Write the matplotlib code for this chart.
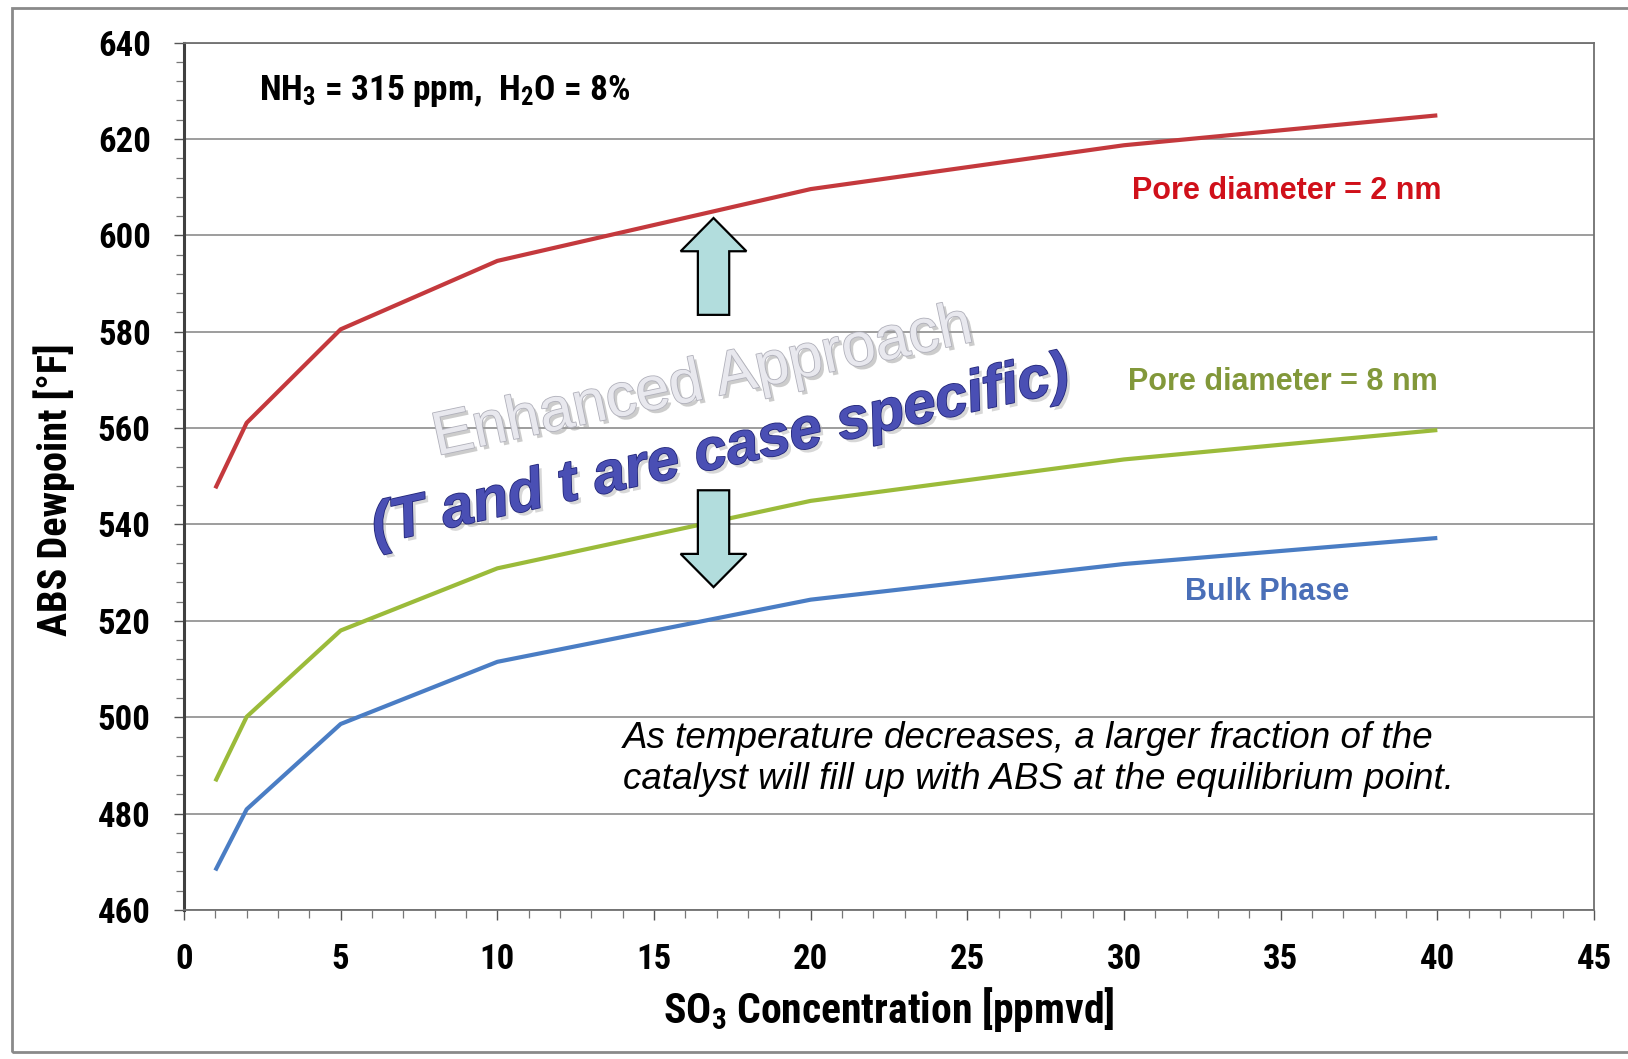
import matplotlib
matplotlib.use("Agg")
import matplotlib.pyplot as plt
from matplotlib import font_manager
from matplotlib.patches import FancyArrow, Rectangle
import matplotlib.patheffects as pe
from matplotlib.ticker import MultipleLocator

# ---------------- data ----------------
so3 = [1, 2, 5, 10, 20, 30, 40]
pore_2nm = [547.5, 561.1, 580.5, 594.7, 609.6, 618.7, 624.9]
pore_8nm = [486.7, 500.1, 518.0, 530.9, 544.9, 553.5, 559.6]
bulk = [468.2, 480.9, 498.6, 511.5, 524.4, 531.8, 537.2]
series_names = ["Pore diameter = 2 nm", "Pore diameter = 8 nm", "Bulk Phase"]
xticks = [0, 5, 10, 15, 20, 25, 30, 35, 40, 45]
yticks = [460, 480, 500, 520, 540, 560, 580, 600, 620, 640]

# ---------------- fonts ----------------
def has_font(name):
    try:
        font_manager.findfont(font_manager.FontProperties(family=name), fallback_to_default=False)
        return True
    except Exception:
        return False

NARROW = "Liberation Sans Narrow" if has_font("Liberation Sans Narrow") else "Roboto Condensed" if has_font("Roboto Condensed") else "Liberation Sans"
ARIAL = "Liberation Sans"
plt.rcParams["mathtext.default"] = "regular"

W, H = 1628, 1059
fig = plt.figure(figsize=(W / 100, H / 100), dpi=100)
fig.patch.set_facecolor("white")

# outer frame
fig.add_artist(Rectangle((12 / W, 1 - 1052 / H), 1.2, (1052 - 8) / H, transform=fig.transFigure,
                         facecolor="none", edgecolor="#8a8a8a", lw=2.0, zorder=0))

ax = fig.add_axes([184 / W, 1 - 910 / H, (1594 - 184) / W, (910 - 42.6) / H])
ax.set_xlim(0, 45)
ax.set_ylim(460, 640)

ax.xaxis.set_major_locator(MultipleLocator(5))
ax.xaxis.set_minor_locator(MultipleLocator(1))
ax.yaxis.set_major_locator(MultipleLocator(20))
ax.yaxis.set_minor_locator(MultipleLocator(4))
ax.set_xticks(xticks)
ax.set_yticks(yticks)

ax.tick_params(axis="both", which="major", direction="out", length=7, width=1.0, color="#555555", pad=17)
ax.tick_params(axis="both", which="minor", direction="out", length=6, width=0.9, color="#777777")
for lab in ax.get_xticklabels() + ax.get_yticklabels():
    lab.set_fontfamily(NARROW)
    lab.set_fontweight("bold")
    lab.set_fontsize(25)

ax.yaxis.grid(True, which="major", color="#8c8c8c", lw=1.2)
ax.set_axisbelow(True)
for side in ["top", "right", "bottom"]:
    ax.spines[side].set_color("#707070")
    ax.spines[side].set_linewidth(1.3)
ax.spines["left"].set_color("#404040")
ax.spines["left"].set_linewidth(2.2)

ax.set_ylabel("ABS Dewpoint [°F]", fontfamily=NARROW, fontweight="bold", fontsize=29)
ax.yaxis.set_label_coords(-0.077, 0.485)
ax.set_xlabel("SO$_3$ Concentration [ppmvd]", fontfamily=NARROW, fontweight="bold", fontsize=30)
ax.xaxis.set_label_coords(0.5, -0.086)

# lines
colors = ["#C4393D", "#9BBB3A", "#4A7DC4"]
for ys, c in zip([pore_2nm, pore_8nm, bulk], colors):
    ax.plot(so3, ys, color=c, lw=3.0, solid_capstyle="butt", zorder=3)

# series labels
ax.text(35.2, 609.2, series_names[0], color="#D0101A", fontfamily=ARIAL, fontweight="bold",
        fontsize=22, ha="center", va="center", zorder=5)
ax.text(35.06, 569.5, series_names[1], color="#82983A", fontfamily=ARIAL, fontweight="bold",
        fontsize=22, ha="center", va="center", zorder=5)
ax.text(34.56, 525.9, series_names[2], color="#4A6FB8", fontfamily=ARIAL, fontweight="bold",
        fontsize=22, ha="center", va="center", zorder=5)

# condition text
ax.text(2.4, 630.0, "NH$_3$ = 315 ppm,  H$_2$O = 8%", fontfamily=NARROW, fontweight="bold",
        fontsize=25.5, ha="left", va="center", zorder=5)

# italic note
ax.text(14.0, 491.4, "As temperature decreases, a larger fraction of the\ncatalyst will fill up with ABS at the equilibrium point.",
        fontfamily=ARIAL, fontstyle="italic", fontsize=26.5, ha="left", va="center",
        linespacing=1.22, zorder=5)

# arrows
arrow_x = 16.9
for y0, dy in [(583.5, 20.1), (547.1, -20.1)]:
    ax.add_patch(FancyArrow(arrow_x, y0, 0, dy, width=1.0, head_width=2.1, head_length=6.9,
                            length_includes_head=True, facecolor="#B2DDDD", edgecolor="black",
                            lw=1.6, zorder=6))

# rotated decorative texts
fig.text(703 / W, 1 - 383 / H, "Enhanced Approach", fontfamily=ARIAL, fontsize=44,
         color="#E8E8EE", rotation=12, ha="center", va="center", rotation_mode="anchor", zorder=7,
         path_effects=[pe.SimplePatchShadow(offset=(2.5, -2.5), shadow_rgbFace="#9a9a9a", alpha=0.5),
                       pe.Stroke(linewidth=1.2, foreground="#b0b0ba"), pe.Normal()])
fig.text(721 / W, 1 - 452 / H, "(T and t are case specific)", fontfamily=ARIAL, fontsize=42,
         fontweight="bold", fontstyle="italic", color="#4A4FB4", rotation=12.5, ha="center",
         va="center", rotation_mode="anchor", zorder=7,
         path_effects=[pe.SimplePatchShadow(offset=(2.5, -2.5), shadow_rgbFace="#b0b0b0", alpha=0.5),
                       pe.Stroke(linewidth=1.2, foreground="#23277a"), pe.Normal()])

fig.savefig("out.png", dpi=100)
